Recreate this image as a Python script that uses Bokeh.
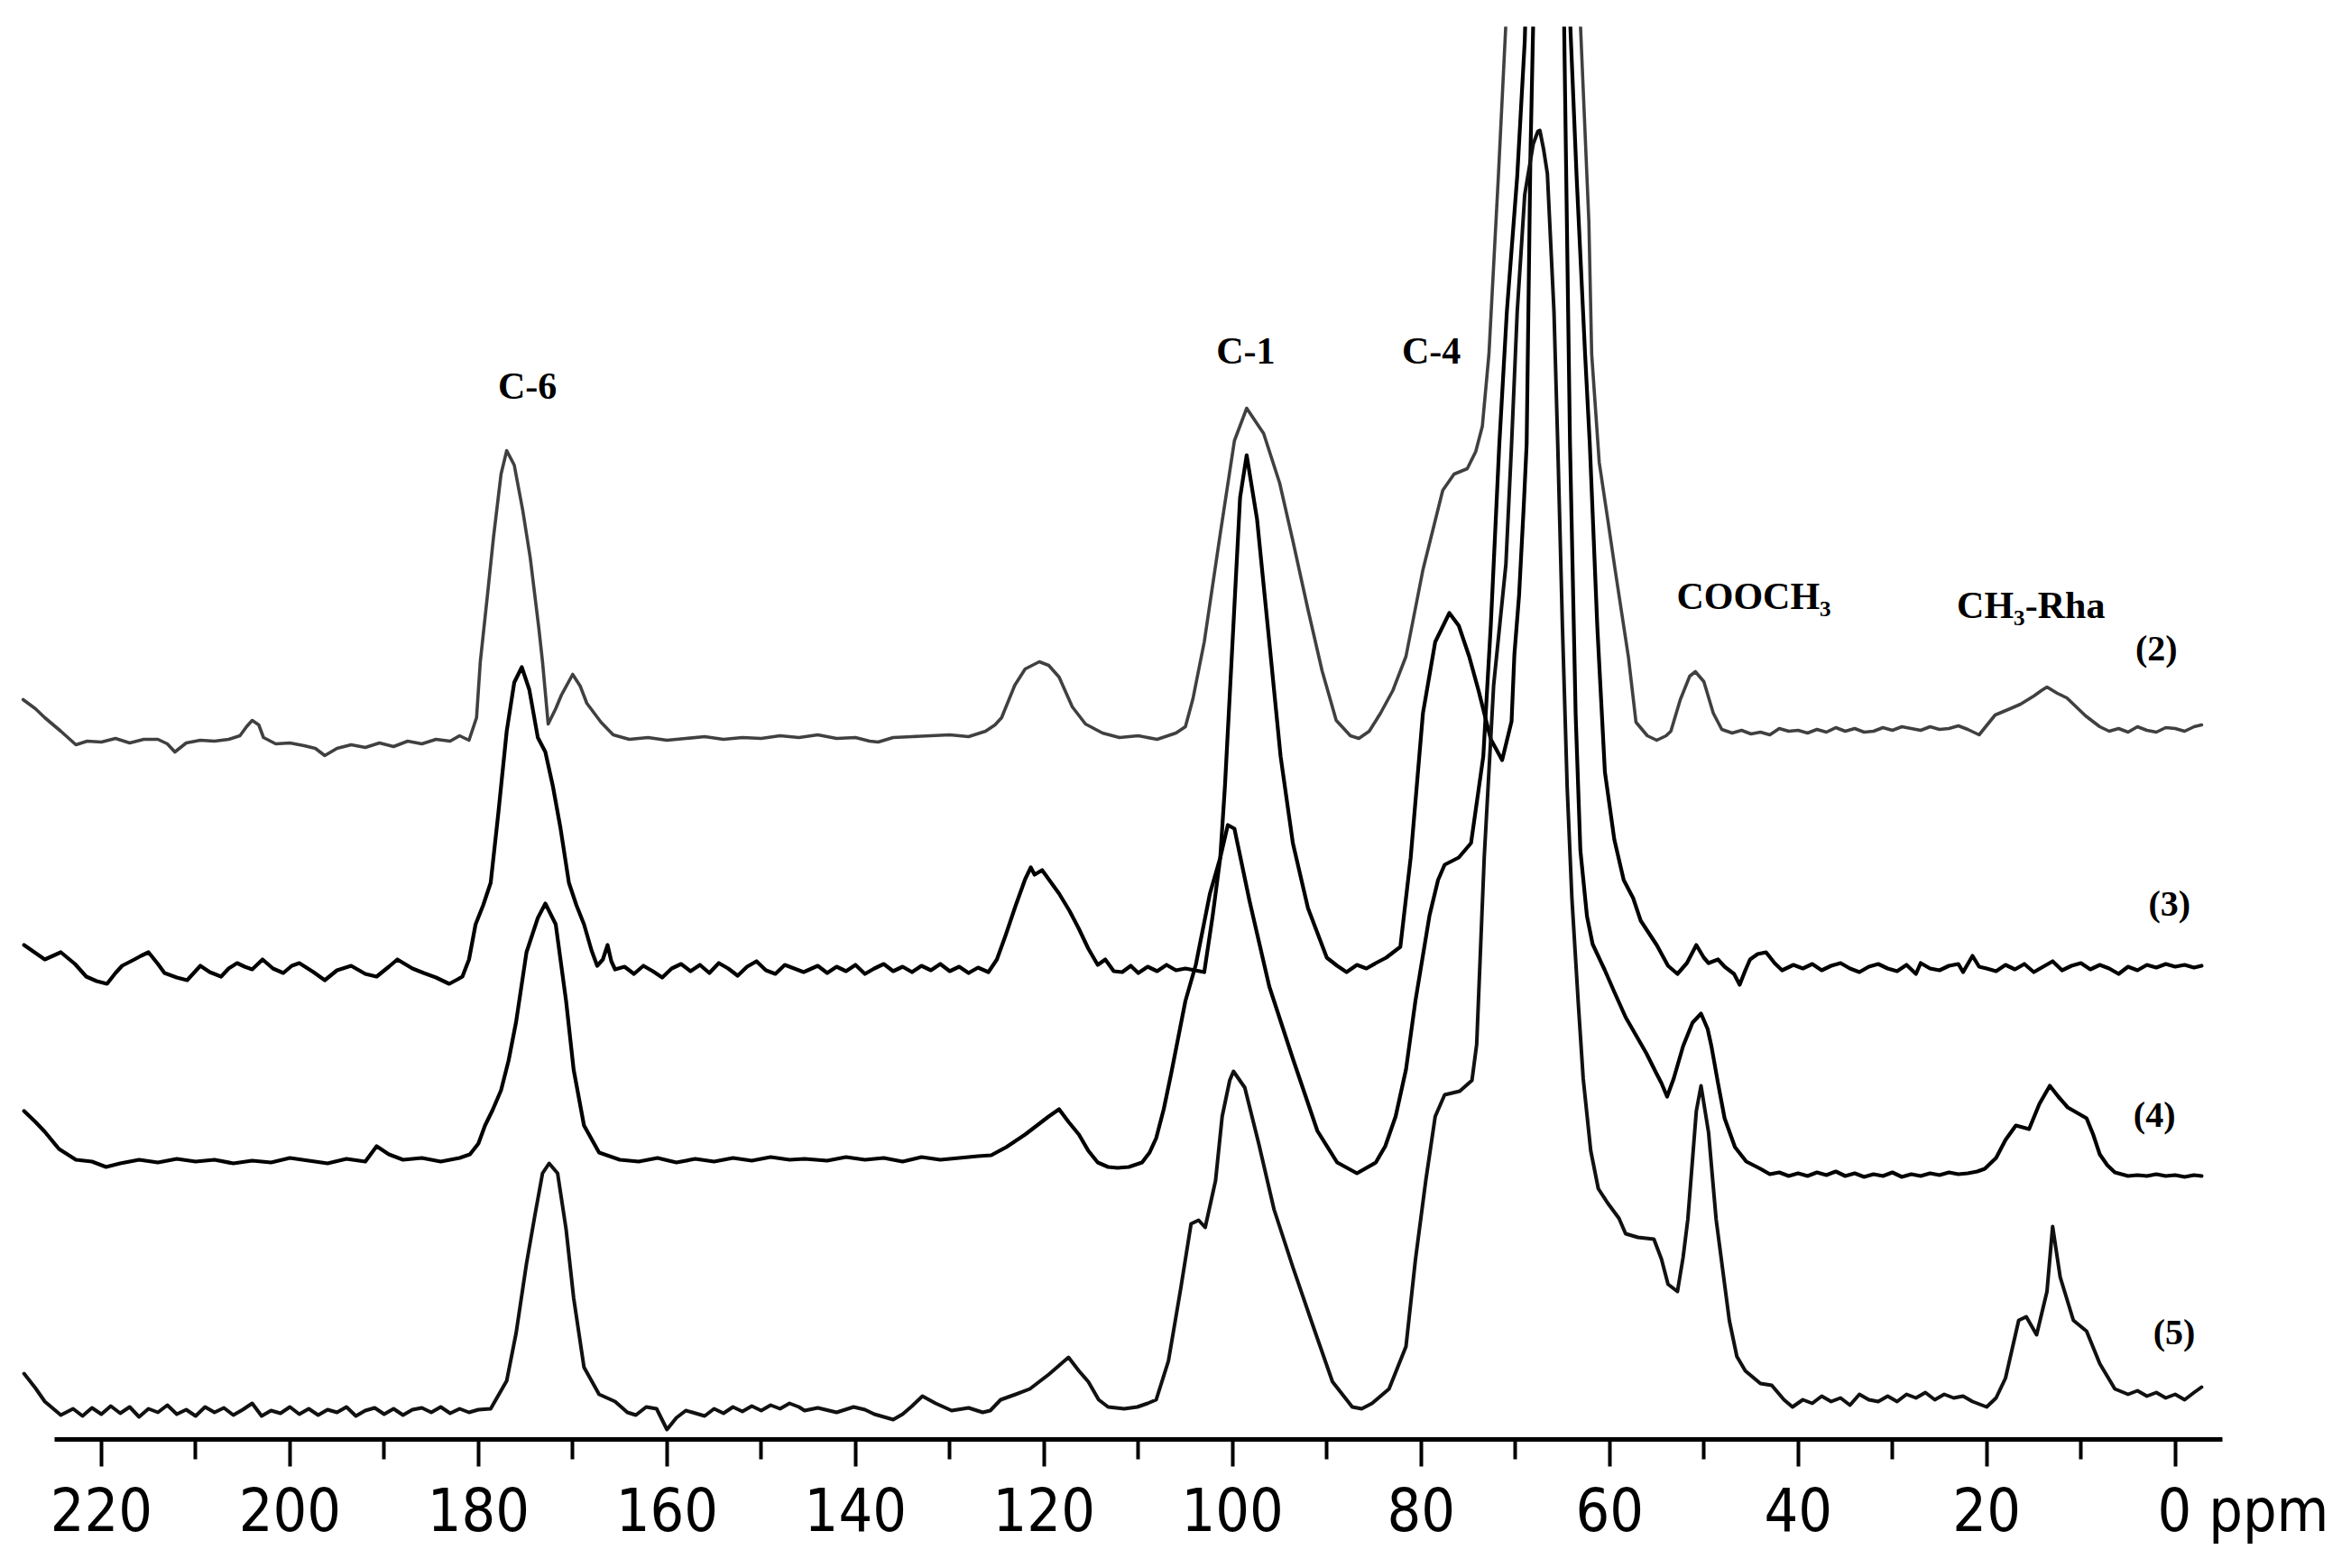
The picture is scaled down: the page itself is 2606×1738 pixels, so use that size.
import numpy as np
from bokeh.plotting import figure
from bokeh.models import Range1d, FixedTicker, ColumnDataSource
from bokeh.core.properties import value
from bokeh.embed import file_html
from bokeh.resources import INLINE

# ---------------- data (ppm, intensity above each trace's own baseline) ----------------
spec2 = [
    (228.3, 40), (227.0, 30), (226.0, 20), (224.3, 5), (222.7, -10), (221.5, -6), (220.0, -7),
    (218.5, -3), (217.0, -8), (215.5, -4), (214.0, -4), (213.0, -9), (212.2, -18), (211.0, -8),
    (209.5, -5), (208.0, -6), (206.5, -4), (205.3, 0), (204.6, 10), (204.0, 17), (203.3, 12),
    (202.8, -2), (201.5, -9), (200.0, -8), (198.5, -11), (197.3, -14), (196.3, -22), (195.0, -14),
    (193.5, -10), (192.0, -13), (190.5, -8), (189.0, -12), (187.5, -6), (186.0, -9), (184.5, -4),
    (183.0, -6), (182.0, 0), (181.0, -5), (180.2, 20), (179.8, 82), (179.0, 160), (178.4, 220),
    (177.6, 290), (177.0, 316), (176.2, 300), (175.3, 250), (174.5, 197), (173.6, 120), (173.2, 82),
    (172.6, 13), (171.8, 30), (171.2, 45), (170.0, 68), (169.2, 55), (168.5, 36), (167.0, 15),
    (165.7, 1), (164.0, -4), (162.0, -2), (160.0, -5), (158.0, -3), (156.0, -1), (154.0, -4),
    (152.0, -2), (150.0, -3), (148.0, 0), (146.0, -2), (144.0, 1), (142.0, -3), (140.0, -2),
    (138.5, -6), (137.6, -7), (136.0, -2), (134.0, -1), (132.0, 0), (130.0, 1), (128.0, -1),
    (126.2, 5), (125.2, 12), (124.5, 20), (123.1, 56), (122.0, 74), (120.5, 82), (119.5, 78),
    (118.4, 65), (117.0, 32), (115.6, 13), (113.8, 3), (112.0, -2), (110.0, 0), (108.0, -4),
    (106.0, 3), (105.0, 10), (104.2, 41), (103.0, 104), (101.3, 224), (99.8, 327), (98.5, 363),
    (96.7, 335), (95.0, 280), (93.6, 216), (92.0, 140), (90.5, 72), (89.0, 17), (87.5, 0),
    (86.6, -3), (85.5, 5), (84.3, 25), (83.0, 50), (81.6, 88), (79.8, 184), (77.7, 272),
    (76.5, 290), (75.1, 296), (74.2, 315), (73.5, 343), (72.8, 423), (71.8, 620), (71.0, 790),
    (70.0, 1020), (68.5, 1300), (67.0, 1420), (65.5, 1300), (64.0, 1020), (63.1, 790), (62.2, 570),
    (61.9, 423), (61.1, 303), (60.2, 240), (59.4, 183), (58.0, 87), (57.2, 15), (56.0, 0),
    (55.0, -5), (54.0, 0), (53.5, 5), (52.5, 40), (51.5, 66), (50.9, 71), (50.0, 60), (49.0, 25),
    (48.1, 7), (47.0, 3), (46.0, 6), (45.0, 2), (44.0, 4), (43.0, 1), (42.0, 8), (41.0, 5),
    (40.0, 6), (39.0, 3), (38.0, 7), (37.0, 4), (36.0, 9), (35.0, 5), (34.0, 8), (33.0, 4),
    (32.0, 5), (31.0, 9), (30.0, 6), (29.0, 10), (28.0, 8), (27.0, 6), (26.0, 10), (25.0, 7),
    (24.0, 8), (23.0, 11), (22.0, 7), (20.8, 1), (19.1, 23), (17.5, 30), (16.4, 35), (15.0, 44),
    (14.2, 50), (13.6, 54), (12.5, 47), (11.5, 42), (10.8, 35), (9.5, 22), (8.0, 10), (7.0, 5),
    (6.0, 8), (5.0, 4), (4.0, 10), (3.0, 6), (2.0, 4), (1.0, 9), (0.0, 8), (-1.0, 5), (-2.0, 10),
    (-2.8, 12),
]

spec3 = [
    (228.2, 26), (226.0, 10), (224.3, 18), (222.8, 5), (221.6, -9), (220.5, -14), (219.4, -17),
    (218.5, -5), (217.8, 3), (216.5, 10), (215.8, 14), (215.0, 18), (214.0, 5), (213.3, -5),
    (212.0, -10), (210.9, -13), (209.5, 3), (208.5, -4), (207.3, -9), (206.5, 0), (205.6, 6),
    (204.8, 2), (204.0, -1), (202.9, 10), (201.8, 0), (200.7, -5), (199.8, 3), (199.0, 6),
    (197.5, -4), (196.3, -13), (195.0, -2), (193.5, 3), (192.0, -6), (190.8, -9), (189.5, 2),
    (188.6, 10), (187.0, 0), (185.8, -5), (184.5, -10), (183.1, -17), (182.2, -12), (181.7, -9),
    (181.0, 10), (180.3, 49), (179.5, 70), (178.7, 95), (177.9, 171), (177.0, 263), (176.2, 317),
    (175.4, 334), (174.6, 309), (173.7, 256), (172.9, 240), (172.1, 202), (171.3, 156),
    (170.4, 95), (169.6, 70), (168.8, 49), (168.0, 20), (167.4, 3), (166.8, 10), (166.3, 26),
    (165.9, 8), (165.5, -1), (164.5, 2), (163.5, -6), (162.5, 3), (161.5, -3), (160.5, -10),
    (159.5, 0), (158.5, 5), (157.5, -3), (156.5, 4), (155.5, -5), (154.5, 6), (153.5, 0),
    (152.5, -8), (151.5, 2), (150.5, 8), (149.5, -2), (148.5, -6), (147.5, 4), (146.5, 0),
    (145.5, -4), (144.0, 3), (143.0, -5), (142.0, 2), (141.0, -3), (140.0, 4), (139.0, -6),
    (138.0, 0), (137.0, 5), (136.0, -3), (135.0, 2), (134.0, -4), (133.0, 3), (132.0, -2),
    (131.0, 5), (130.0, -3), (129.0, 2), (128.0, -5), (127.0, 1), (125.9, -4), (125.0, 10),
    (124.1, 36), (123.0, 70), (122.0, 99), (121.4, 112), (121.0, 104), (120.2, 109), (119.3, 96),
    (118.4, 83), (117.3, 64), (116.3, 44), (115.3, 22), (114.3, 4), (113.5, 10), (112.6, -3),
    (111.7, -4), (110.8, 3), (110.0, -5), (109.0, 2), (108.0, -3), (107.0, 4), (106.0, -2),
    (105.0, 0), (104.0, -2), (103.0, -4), (102.1, 59), (101.3, 123), (100.8, 203), (100.0, 362),
    (99.2, 522), (98.5, 569), (97.4, 498), (96.1, 362), (94.9, 235), (93.6, 139), (92.0, 67),
    (90.0, 12), (88.9, 3), (87.9, -4), (86.8, 4), (85.8, 0), (84.8, 6), (83.7, 12), (82.2, 24),
    (81.1, 123), (79.8, 283), (78.5, 362), (77.0, 394), (76.0, 380), (74.9, 346), (73.9, 308),
    (73.3, 283), (72.6, 254), (71.4, 231), (70.4, 274), (70.1, 348), (69.6, 414), (69.1, 514),
    (68.8, 581), (68.4, 900), (67.8, 1200), (66.5, 1680), (65.2, 1300), (64.5, 1128), (63.5, 878),
    (62.6, 681), (62.1, 581), (61.3, 378), (60.5, 218), (59.5, 143), (58.5, 98), (57.5, 78),
    (56.7, 53), (55.0, 26), (53.8, 3), (52.8, -6), (51.8, 6), (50.8, 26), (50.0, 12), (49.5, 6),
    (48.5, 10), (47.8, 2), (46.8, -6), (46.2, -18), (45.6, -2), (45.1, 10), (44.3, 16),
    (43.4, 18), (42.5, 6), (41.7, -2), (40.5, 4), (39.5, 0), (38.5, 5), (37.5, -2), (36.5, 3),
    (35.5, 6), (34.5, 0), (33.5, -4), (32.5, 2), (31.5, 5), (30.5, 0), (29.5, -3), (28.5, 4),
    (27.5, -6), (27.0, 6), (26.0, 0), (25.0, -2), (24.0, 3), (23.0, 5), (22.5, -4), (21.5, 14),
    (20.8, 2), (20.0, 0), (19.0, -3), (18.0, 4), (17.0, -1), (16.0, 5), (15.0, -4), (14.0, 2),
    (13.0, 8), (12.0, -2), (11.0, 3), (10.0, 6), (9.0, -1), (8.0, 4), (7.0, 0), (6.0, -6),
    (5.0, 2), (4.0, -2), (3.0, 4), (2.0, 1), (1.0, 5), (0.0, 2), (-1.0, 4), (-2.0, 1), (-2.8, 3),
]

spec4 = [
    (228.2, 64), (227.0, 52), (226.0, 41), (224.5, 22), (222.7, 10), (221.0, 8), (219.5, 2),
    (218.0, 6), (216.0, 10), (214.0, 7), (212.0, 11), (210.0, 8), (208.0, 10), (206.0, 6),
    (204.0, 9), (202.0, 7), (200.0, 12), (198.0, 9), (196.0, 6), (194.0, 11), (192.0, 8),
    (190.8, 25), (189.5, 16), (188.0, 10), (186.0, 12), (184.0, 8), (182.0, 12), (180.9, 16),
    (180.0, 28), (179.3, 48), (178.5, 65), (177.6, 87), (176.8, 120), (176.0, 163), (174.9, 240),
    (173.7, 278), (172.9, 294), (171.8, 271), (170.7, 186), (169.9, 110), (168.8, 48),
    (167.2, 18), (165.0, 10), (163.0, 8), (161.0, 12), (159.0, 7), (157.0, 11), (155.0, 8),
    (153.0, 12), (151.0, 9), (149.0, 13), (147.0, 10), (145.4, 11), (143.0, 9), (141.0, 13),
    (139.0, 10), (137.0, 12), (135.0, 8), (133.0, 13), (131.0, 10), (129.0, 12), (127.0, 14),
    (125.6, 15), (124.0, 24), (122.0, 38), (120.5, 50), (119.5, 58), (118.4, 66), (117.4, 52),
    (116.3, 38), (115.3, 20), (114.3, 7), (113.2, 2), (112.2, 1), (111.0, 2), (109.6, 7),
    (108.8, 18), (108.1, 34), (107.3, 66), (106.5, 106), (105.0, 186), (103.9, 226),
    (102.4, 305), (101.3, 345), (100.5, 381), (99.8, 377), (98.2, 297), (96.1, 202), (93.6, 122),
    (91.0, 42), (88.9, 7), (86.8, -5), (84.8, 7), (83.8, 25), (82.7, 58), (81.6, 110),
    (80.6, 186), (79.1, 281), (78.2, 320), (77.5, 337), (76.0, 345), (74.7, 361), (73.9, 420),
    (73.4, 457), (72.6, 603), (71.7, 803), (70.9, 950), (69.8, 1100), (69.0, 1250), (68.6, 1400),
    (67.8, 1700), (66.8, 1900), (65.8, 1650), (65.0, 1400), (64.6, 1100), (64.2, 803),
    (63.6, 503), (63.1, 353), (62.4, 280), (61.8, 249), (60.5, 220), (59.5, 196), (58.3, 168),
    (57.2, 148), (56.1, 128), (55.0, 105), (54.5, 95), (53.9, 80), (53.2, 100), (52.2, 136),
    (51.2, 162), (50.3, 172), (49.6, 155), (49.2, 136), (48.5, 95), (47.8, 56), (46.7, 24),
    (45.5, 8), (44.0, 0), (43.0, -6), (42.0, -4), (41.0, -8), (40.0, -5), (39.0, -8), (38.0, -4),
    (37.0, -7), (36.0, -3), (35.0, -8), (34.0, -5), (33.0, -9), (32.0, -6), (31.0, -8),
    (30.0, -4), (29.0, -9), (28.0, -6), (27.0, -8), (26.0, -5), (25.0, -7), (24.0, -4),
    (23.0, -6), (22.0, -5), (21.0, -3), (20.2, 0), (19.0, 12), (18.0, 32), (16.9, 48),
    (15.5, 44), (14.4, 72), (13.3, 92), (12.4, 80), (11.4, 68), (10.4, 62), (9.4, 56), (8.7, 38),
    (8.0, 16), (7.2, 4), (6.4, -4), (5.0, -8), (4.0, -7), (3.0, -8), (2.0, -6), (1.0, -8),
    (0.0, -7), (-1.0, -9), (-2.0, -7), (-2.8, -8),
]

spec5 = [
    (228.2, 41), (227.0, 25), (226.0, 10), (224.3, -5), (223.0, 2), (222.0, -6), (221.0, 3),
    (220.0, -4), (219.0, 5), (218.0, -3), (217.0, 4), (216.0, -7), (215.0, 2), (214.0, -2),
    (213.0, 6), (212.0, -4), (211.0, 1), (210.0, -6), (209.0, 4), (208.0, -2), (207.0, 3),
    (206.0, -5), (205.0, 1), (204.0, 8), (203.0, -6), (202.0, 0), (201.0, -3), (200.0, 4),
    (199.0, -4), (198.0, 2), (197.0, -5), (196.0, 1), (195.0, -2), (194.0, 4), (193.0, -6),
    (192.0, 0), (191.0, 3), (190.0, -4), (189.0, 2), (188.0, -5), (187.0, 1), (186.0, 3),
    (185.0, -2), (184.0, 4), (183.0, -3), (182.0, 2), (181.0, -2), (180.0, 1), (178.7, 2),
    (177.0, 33), (176.0, 86), (174.9, 163), (174.0, 217), (173.2, 263), (172.5, 274),
    (171.6, 263), (170.7, 201), (169.9, 125), (168.8, 48), (167.2, 18), (165.5, 10), (164.2, -2),
    (163.3, -5), (162.2, 4), (161.1, 2), (160.0, -21), (159.0, -8), (158.0, 0), (157.3, -2),
    (156.0, -6), (155.0, 2), (154.0, -3), (153.0, 4), (152.0, -1), (151.0, 5), (150.0, 0),
    (149.0, 6), (148.0, 2), (147.0, 8), (146.0, 4), (145.4, 0), (144.0, 3), (142.0, -2),
    (140.2, 4), (139.0, 1), (138.0, -4), (136.0, -10), (135.0, -4), (134.0, 5), (132.9, 16),
    (131.5, 8), (129.8, 0), (128.0, 3), (126.5, -2), (125.7, 0), (124.6, 12), (123.0, 18),
    (121.5, 24), (119.5, 40), (117.4, 59), (116.3, 44), (115.3, 32), (114.2, 12), (113.2, 4),
    (111.5, 2), (110.1, 4), (109.0, 8), (108.1, 12), (106.8, 55), (105.5, 135), (104.4, 207),
    (103.6, 211), (102.9, 203), (101.8, 255), (101.1, 326), (100.3, 366), (99.9, 376),
    (98.7, 358), (97.2, 295), (95.6, 223), (93.6, 159), (91.5, 95), (89.4, 32), (87.3, 4),
    (86.3, 2), (85.2, 8), (83.4, 24), (81.6, 71), (80.6, 167), (79.5, 255), (78.5, 326),
    (77.5, 350), (75.9, 354), (74.6, 366), (74.1, 406), (73.3, 613), (72.3, 804), (71.0, 938),
    (70.4, 1071), (69.8, 1218), (69.0, 1348), (68.1, 1404), (67.6, 1418), (67.4, 1419),
    (67.0, 1398), (66.6, 1371), (65.9, 1218), (65.5, 1071), (65.0, 868), (64.5, 691), (64.0, 568),
    (63.3, 448), (62.8, 368), (62.0, 288), (61.2, 246), (60.2, 230), (59.0, 213), (58.3, 196),
    (57.0, 192), (55.3, 190), (54.5, 168), (53.8, 140), (52.8, 132), (52.2, 170), (51.7, 212),
    (50.8, 332), (50.3, 360), (49.5, 308), (48.7, 212), (47.3, 100), (46.5, 60), (45.6, 44),
    (44.0, 30), (42.8, 28), (41.5, 12), (40.6, 4), (39.5, 12), (38.5, 8), (37.5, 16), (36.5, 10),
    (35.5, 14), (34.5, 6), (33.5, 18), (32.5, 12), (31.5, 10), (30.5, 16), (29.5, 10),
    (28.5, 18), (27.5, 14), (26.5, 20), (25.5, 12), (24.5, 18), (23.5, 14), (22.5, 16),
    (21.5, 10), (20.0, 4), (19.0, 14), (18.0, 36), (16.6, 100), (15.8, 104), (14.7, 84),
    (13.6, 132), (13.0, 204), (12.2, 148), (10.8, 100), (9.4, 88), (8.0, 52), (6.4, 24),
    (5.0, 18), (4.0, 22), (3.0, 16), (2.0, 20), (1.0, 14), (0.0, 18), (-1.0, 12), (-2.0, 20),
    (-2.8, 26),
]

SPECTRA = [spec2, spec3, spec4, spec5]
SPECTRUM_NAMES = ["(2)", "(3)", "(4)", "(5)"]
PEAK_NAMES = ["C-6", "C-1", "C-4", "COOCH\u2083", "CH\u2083-Rha"]
MAJOR_TICKS = list(range(0, 221, 20))
MINOR_TICKS = list(range(10, 220, 20))
AXIS_UNIT = "ppm"

# ---------------- layout / style ----------------
OFFSETS = [780, 522, 300, 32]                 # vertical stacking of the traces
LINE_COLORS = ["#404040", "#000000", "#000000", "#111111"]
LINE_WIDTHS = [3.6, 4.2, 4.2, 4.0]
PEAK_POS = [(174.8, 1168), (98.6, 1207), (78.9, 1207), (44.7, 935), (15.3, 925)]
NAME_POS = [(2.0, 877), (0.6, 594), (2.2, 360), (0.1, 119)]

p = figure(frame_width=2514, frame_height=1566,
           x_range=Range1d(228.6, -12.0), y_range=Range1d(0, 1566),
           output_backend="svg", toolbar_location=None, y_axis_location=None,
           min_border_left=22, min_border_top=29, min_border_right=54, min_border_bottom=110)
p.grid.visible = False
p.outline_line_color = None
p.background_fill_color = "white"
p.border_fill_color = "white"

for spec, off, col, lw in zip(SPECTRA, OFFSETS, LINE_COLORS, LINE_WIDTHS):
    arr = np.array(spec, dtype=float)
    src = ColumnDataSource(dict(x=arr[:, 0], y=arr[:, 1] + off))
    p.line("x", "y", source=src, line_color=col, line_width=lw, line_join="round", line_cap="round")

ax = p.xaxis[0]
ax.ticker = FixedTicker(ticks=MAJOR_TICKS, minor_ticks=MINOR_TICKS)
ax.bounds = (-5, 225)
ax.axis_line_width = 5
ax.axis_line_color = "black"
ax.major_tick_line_width = 4
ax.minor_tick_line_width = 4
ax.major_tick_in = 0
ax.major_tick_out = 30
ax.minor_tick_in = 0
ax.minor_tick_out = 22
ax.major_label_standoff = 10
ax.major_label_text_font = "DejaVu Sans Condensed"
ax.major_label_text_font_size = "66px"
ax.major_label_text_color = "black"
# keep the "0" centred on its tick while the unit follows it
ax.major_label_overrides = {0: "\u00a0" * 8 + "0 " + AXIS_UNIT}

tsrc = ColumnDataSource(dict(x=[q[0] for q in PEAK_POS], y=[q[1] for q in PEAK_POS], t=PEAK_NAMES))
p.text("x", "y", text="t", source=tsrc, text_font=value("Liberation Serif"), text_font_style="bold",
       text_font_size="42px", text_align="center", text_baseline="middle", text_color="black")
nsrc = ColumnDataSource(dict(x=[q[0] for q in NAME_POS], y=[q[1] for q in NAME_POS], t=SPECTRUM_NAMES))
p.text("x", "y", text="t", source=nsrc, text_font=value("Liberation Serif"), text_font_style="bold",
       text_font_size="40px", text_align="center", text_baseline="middle", text_color="black")

open("out.html", "w").write(file_html(p, INLINE))
